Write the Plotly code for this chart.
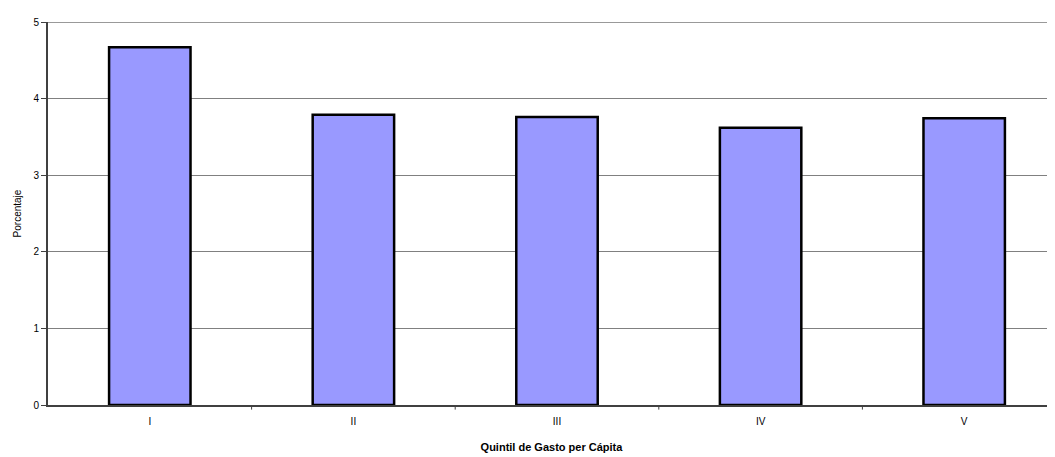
import plotly.graph_objects as go

categories = ["I", "II", "III", "IV", "V"]
values = [4.67, 3.79, 3.76, 3.62, 3.745]
y_ticks = [0, 1, 2, 3, 4, 5]

fig = go.Figure()
fig.add_trace(go.Bar(
    x=list(range(len(categories))),
    y=values,
    width=0.40,
    marker=dict(color="#9999FF", line=dict(color="#000000", width=2.5)),
    hoverinfo="skip",
))

# the page body adds an 8px offset; margins compensate for it
fig.update_layout(
    width=1055, height=457,
    margin=dict(l=38, r=8, t=13, b=60),
    paper_bgcolor="white", plot_bgcolor="white",
    showlegend=False,
    font=dict(family="Liberation Sans, Arial, sans-serif", size=10, color="#000000"),
    xaxis=dict(
        range=[-0.5, 4.446],
        tickmode="array",
        tickvals=list(range(len(categories))),
        ticktext=categories,
        showgrid=False,
        showline=True, linecolor="#404040", linewidth=2,
        ticks="outside", ticklen=6, tickcolor="rgba(0,0,0,0)",
        zeroline=False,
        title=dict(text="<b>Quintil de Gasto per Cápita</b>", font=dict(size=11), standoff=17),
        tickfont=dict(size=10),
    ),
    yaxis=dict(
        range=[0, 5],
        tickmode="array", tickvals=y_ticks,
        showgrid=True, gridcolor="#808080", gridwidth=1,
        showline=True, linecolor="#404040", linewidth=2,
        ticks="outside", ticklen=5, tickcolor="#404040", tickwidth=1,
        zeroline=False,
        title=dict(text="Porcentaje", font=dict(size=10), standoff=10),
        tickfont=dict(size=10),
    ),
)

# top gridline at the range maximum
fig.add_shape(type="line", xref="paper", yref="y", x0=0, x1=1, y0=5, y1=5,
              line=dict(color="#999999", width=2), layer="below")

# category boundary tick marks on x axis
for b in [0.5, 1.5, 2.5, 3.5]:
    fig.add_shape(type="line", xref="x", yref="paper", x0=b, x1=b, y0=0, y1=-0.012,
                  line=dict(color="#404040", width=1))

fig.write_html("out.html")
